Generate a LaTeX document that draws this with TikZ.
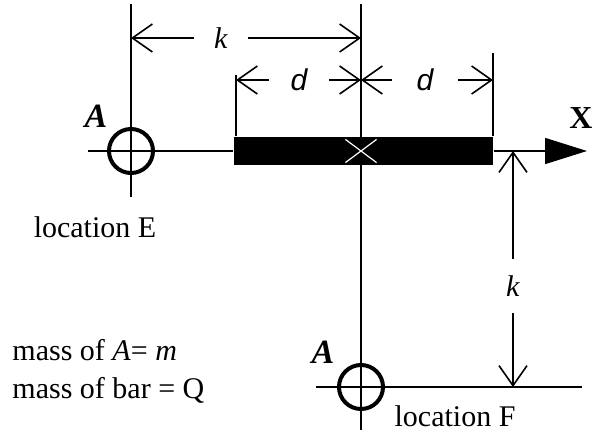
\documentclass[tikz,border=0pt]{standalone}
\usepackage{fontspec}
\setmainfont{Liberation Serif}
\newfontfamily\arialfont{Liberation Sans}
\newcommand{\figfont}{\fontsize{15}{18}\selectfont}
\usetikzlibrary{arrows.meta,shapes.misc}

\begin{document}
\begin{tikzpicture}[x=0.5pt, y=-0.5pt, line width=0.8pt,
    every node/.style={font=\figfont},
    dim/.style={-{Straight Barb[length=10pt, width=14pt]}},
    gap/.style={inner sep=0pt},
    ball/.style={draw, circle, line width=2pt, minimum size=22pt, inner sep=0pt}]
    \useasboundingbox (0,0) rectangle (601,434);

    % 辅助坐标
    \coordinate (top_L) at (131,4);
    \coordinate (bot_L) at (131,197);
    \coordinate (top_C) at (361,4);
    \coordinate (bot_C) at (361,430);
    \coordinate (axis_L) at (88,151);
    \coordinate (axis_R) at (587,151);
    \coordinate (ext_L) at (236,75);
    \coordinate (ext_R) at (493,53);
    \coordinate (base_L) at (316,387);
    \coordinate (base_R) at (582,387);

    % 竖线
    \draw (top_L) -- (bot_L);
    \draw (top_C) -- (bot_C);

    % 杆
    \node[fill, minimum width=129.5pt, minimum height=14pt, inner sep=0pt] (bar) at (363.5,151) {};
    \node[cross out, draw=white, line width=0.6pt, minimum width=15pt, minimum height=11pt, inner sep=0pt] (bar_mid) at (361,151) {};

    % 轴线
    \draw (axis_L) -- (bar.west);
    \draw[-{Triangle[length=21pt, width=13pt]}] (bar.east) -- (axis_R);
    \node[font=\fontsize{16}{18}\selectfont\bfseries] (x_label) at (581,118) {X};

    % 尺寸界线
    \draw (ext_L) -- (ext_L |- bar.north);
    \draw (ext_R) -- (ext_R |- bar.north);

    % 尺寸 k (上)
    \node[gap, minimum width=26pt] (k_top) at (221,38) {\textit{k}};
    \draw[dim] (k_top.west) -- (k_top.west -| top_L);
    \draw[dim] (k_top.east) -- (k_top.east -| top_C);

    % 尺寸 d
    \node[gap, minimum width=29pt, font=\figfont\arialfont\itshape] (d_left) at (299,80) {d};
    \draw[dim] (d_left.west) -- (d_left.west -| ext_L);
    \draw[dim] (d_left.east) -- (d_left.east -| top_C);
    \node[gap, minimum width=32pt, font=\figfont\arialfont\itshape] (d_right) at (425,80) {d};
    \draw[dim] (d_right.west) -- (d_right.west -| top_C);
    \draw[dim] (d_right.east) -- (d_right.east -| ext_R);

    % 尺寸 k (右)
    \node[gap, minimum height=26.5pt] (k_right) at (513,286) {\textit{k}};
    \draw[dim] (k_right.north) -- (k_right.north |- axis_R);
    \draw[dim] (k_right.south) -- (k_right.south |- base_L);

    % 底线
    \draw (base_L) -- (base_R);

    % 质点 A
    \node[ball] (ball_E) at (131,151) {};
    \node[ball] (ball_F) at (361,387) {};
    \node[font=\fontsize{17}{19}\selectfont\bfseries\itshape] (A_E) at (96,116) {A};
    \node[font=\fontsize{17}{19}\selectfont\bfseries\itshape] (A_F) at (323,352) {A};
    \node (loc_E) at (95,227) {location E};
    \node (loc_F) at (455,416) {location F};

    % 质量说明
    \node[anchor=west] (mass_A) at (5,350) {mass of \textit{A}= \textit{m}};
    \node[anchor=west] (mass_bar) at (5,390) {mass of bar = Q};
\end{tikzpicture}
\end{document}
